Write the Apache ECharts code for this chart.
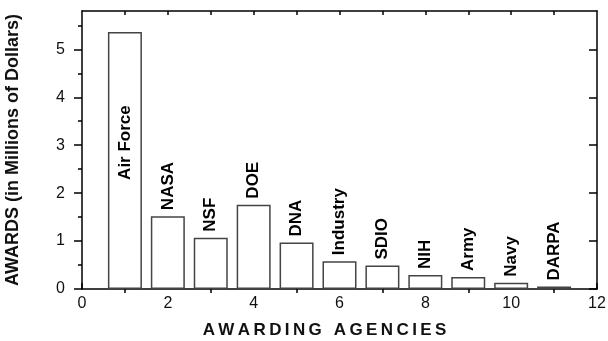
<!DOCTYPE html>
<html>
<head>
<meta charset="utf-8">
<script src="https://cdn.jsdelivr.net/npm/echarts@6/dist/echarts.min.js"></script>
<style>html,body{margin:0;padding:0;background:#fff}#c{width:608px;height:341px}</style>
</head>
<body>
<div id="c"></div>
<script>
var agencies = ['Air Force','NASA','NSF','DOE','DNA','Industry','SDIO','NIH','Army','Navy','DARPA'];
var agencyX = [1,2,3,4,5,6,7,8,9,10,11];
var awards = [5.36,1.52,1.07,1.76,0.97,0.58,0.49,0.29,0.25,0.13,0.05];
var xTickLabels = [0,2,4,6,8,10,12];
var xOddTicks = [1,3,5,7,9,11];
var xTopTicks = [1,2,3,4,5,6,7,8,9,10,11];
var yTickLabels = [0,1,2,3,4,5];
var yMinorTicks = [0.5,1.5,2.5,3.5,4.5,5.5];

var FONT = 'Liberation Sans, Arial, Helvetica, sans-serif';
var chart = echarts.init(document.getElementById('c'), null, {renderer:'canvas'});

var seriesData = agencyX.map(function(x, i){
  var item = {value:[x, awards[i]], name: agencies[i]};
  if (i === 0) {
    item.label = {position:['50%','43%'], align:'center', verticalAlign:'middle', distance:0};
  }
  return item;
});

var lineStyle = {color:'#000', width:1.5};
var hidden = {show:false};

chart.setOption({
  animation:false,
  backgroundColor:'#fff',
  textStyle:{fontFamily:FONT},
  grid:{left:82, right:11, top:11, bottom:52, containLabel:false, outerBoundsMode:'none'},
  xAxis:[
    {type:'value', min:0, max:12, interval:2, position:'bottom', splitLine:hidden,
      axisLine:{show:true, onZero:false, lineStyle:lineStyle},
      axisTick:{show:true, inside:true, length:6, lineStyle:lineStyle},
      axisLabel:{show:true, margin:7, fontSize:16, fontFamily:FONT, color:'#111',
        customValues:xTickLabels},
      name:'A\u2009W\u2009A\u2009R\u2009D\u2009I\u2009N\u2009G\u2002\u2009A\u2009G\u2009E\u2009N\u2009C\u2009I\u2009E\u2009S',
      nameLocation:'middle', nameGap:33,
      nameTextStyle:{fontSize:17, fontWeight:'bold', color:'#111', fontFamily:FONT, padding:[0,30,0,0]}
    },
    {type:'value', min:0, max:12, interval:1, position:'bottom', splitLine:hidden, axisLine:hidden, axisLabel:hidden,
      axisTick:{show:true, inside:false, length:4, customValues:xOddTicks, lineStyle:lineStyle}},
    {type:'value', min:0, max:12, interval:1, position:'top', splitLine:hidden, axisLabel:hidden,
      axisLine:{show:true, onZero:false, lineStyle:lineStyle},
      axisTick:{show:true, inside:true, length:4, customValues:xTopTicks, lineStyle:lineStyle}}
  ],
  yAxis:[
    {type:'value', min:0, max:5.8, interval:1, position:'left', splitLine:hidden,
      axisLine:{show:true, onZero:false, lineStyle:lineStyle},
      axisTick:{show:true, inside:false, length:8, customValues:yTickLabels, lineStyle:lineStyle},
      axisLabel:{show:true, margin:17, fontSize:16, fontFamily:FONT, color:'#111',
        customValues:yTickLabels},
      name:'AWARDS (in Millions of Dollars)', nameLocation:'middle', nameGap:60,
      nameTextStyle:{fontSize:18, fontWeight:'bold', color:'#111', fontFamily:FONT}
    },
    {type:'value', min:0, max:5.8, interval:0.5, position:'left', splitLine:hidden, axisLine:hidden, axisLabel:hidden,
      axisTick:{show:true, inside:false, length:4, customValues:yMinorTicks, lineStyle:lineStyle}},
    {type:'value', min:0, max:5.8, interval:1, position:'right', splitLine:hidden, axisLabel:hidden,
      axisLine:{show:true, onZero:false, lineStyle:lineStyle},
      axisTick:{show:true, inside:true, length:8, customValues:yTickLabels, lineStyle:lineStyle}},
    {type:'value', min:0, max:5.8, interval:0.5, position:'right', splitLine:hidden, axisLine:hidden, axisLabel:hidden,
      axisTick:{show:true, inside:true, length:4, customValues:yMinorTicks, lineStyle:lineStyle}}
  ],
  series:[{
    type:'bar', xAxisIndex:0, yAxisIndex:0,
    barWidth:34,
    data:seriesData,
    itemStyle:{color:'#fff', borderColor:'#444', borderWidth:1.5},
    label:{show:true, position:'top', distance:6, rotate:90, align:'left', verticalAlign:'middle',
      formatter:function(p){return p.name;},
      fontSize:17, fontWeight:'bold', color:'#000', fontFamily:FONT}
  }]
});
</script>
</body>
</html>
